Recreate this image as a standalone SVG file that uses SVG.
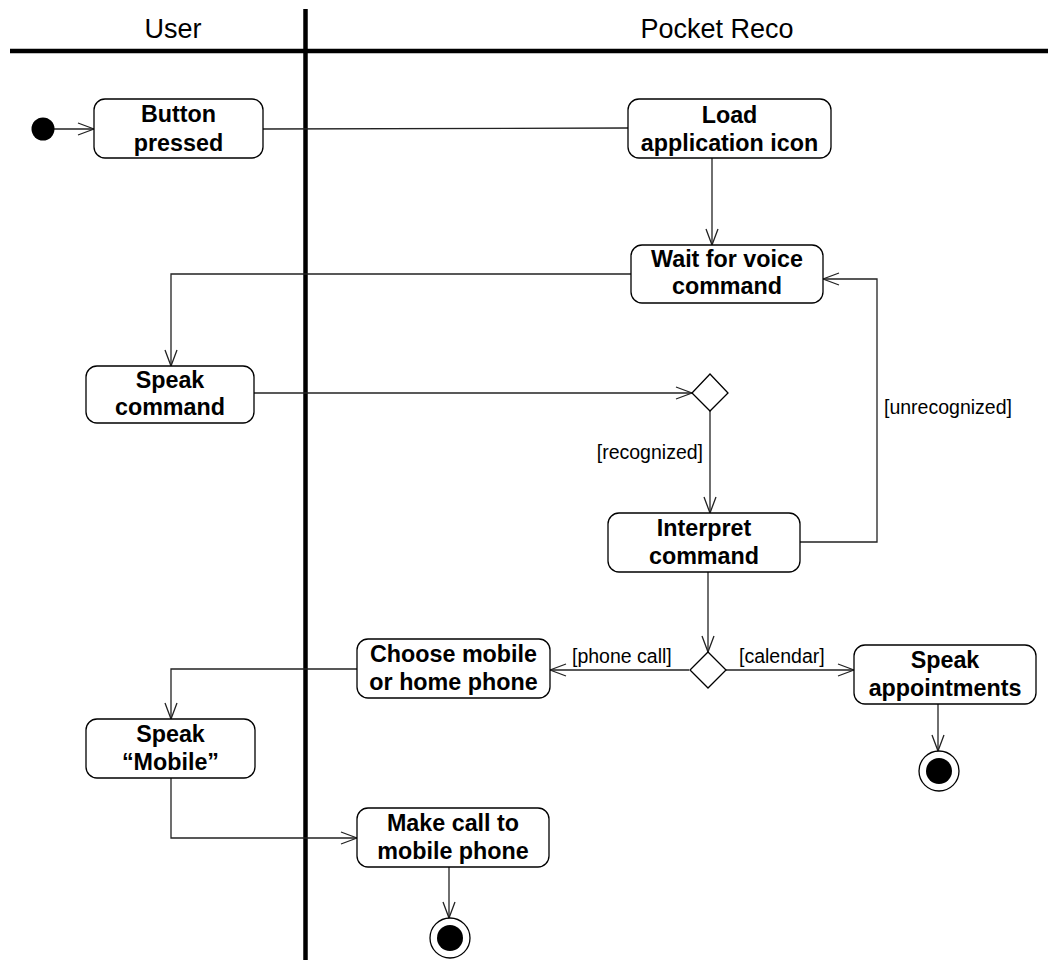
<svg xmlns="http://www.w3.org/2000/svg" width="1048" height="965" viewBox="0 0 1048 965">
  <style>
    .lane { stroke: #000; stroke-width: 4.5; fill: none; }
    .lane-title { font-family: "Liberation Sans", Arial, sans-serif; font-size: 27px; fill: #000; text-anchor: middle; }
    .act { fill: #fff; stroke: #000; stroke-width: 1.3; }
    .act-text { font-family: "Liberation Sans", Arial, sans-serif; font-size: 23.3px; font-weight: bold; fill: #000; text-anchor: middle; }
    .flow { fill: none; stroke: #222; stroke-width: 1.3; }
    .guard { font-family: "Liberation Sans", Arial, sans-serif; font-size: 19.5px; fill: #000; }
    .decision { fill: #fff; stroke: #000; stroke-width: 1.3; }
  </style>
  <defs>
    <marker id="open-arrow" viewBox="0 0 18 14" refX="17" refY="7" markerWidth="18" markerHeight="14" markerUnits="userSpaceOnUse" orient="auto">
      <path d="M1,1 L17,7 L1,13" fill="none" stroke="#222" stroke-width="1.3"/>
    </marker>
  </defs>

  <rect x="0" y="0" width="1048" height="965" fill="#fff"/>

  <!-- swimlanes -->
  <g id="swimlanes">
    <line class="lane" x1="10" y1="51" x2="1048" y2="51"/>
    <line class="lane" x1="305.5" y1="9" x2="305.5" y2="960"/>
    <text class="lane-title" x="173" y="38">User</text>
    <text class="lane-title" x="717" y="38">Pocket Reco</text>
  </g>

  <!-- control flows -->
  <g id="connectors">
    <line class="flow" x1="54" y1="129" x2="94" y2="129" marker-end="url(#open-arrow)"/>
    <line class="flow" x1="263" y1="129" x2="628" y2="128"/>
    <line class="flow" x1="712" y1="158" x2="712" y2="245" marker-end="url(#open-arrow)"/>
    <polyline class="flow" points="631,274 171,274 171,366" marker-end="url(#open-arrow)"/>
    <line class="flow" x1="254" y1="393" x2="692" y2="393" marker-end="url(#open-arrow)"/>
    <line class="flow" x1="710" y1="411" x2="710" y2="513" marker-end="url(#open-arrow)"/>
    <polyline class="flow" points="800,542 877,542 877,279 823,279" marker-end="url(#open-arrow)"/>
    <line class="flow" x1="708" y1="572" x2="708" y2="652" marker-end="url(#open-arrow)"/>
    <line class="flow" x1="689" y1="670" x2="550" y2="670" marker-end="url(#open-arrow)"/>
    <line class="flow" x1="726" y1="670" x2="854" y2="670" marker-end="url(#open-arrow)"/>
    <line class="flow" x1="938" y1="704" x2="938" y2="751" marker-end="url(#open-arrow)"/>
    <polyline class="flow" points="357,669 171,669 171,719" marker-end="url(#open-arrow)"/>
    <polyline class="flow" points="171,778 171,838 357,838" marker-end="url(#open-arrow)"/>
    <line class="flow" x1="449" y1="867" x2="449" y2="918" marker-end="url(#open-arrow)"/>

    <text class="guard" x="703" y="459" text-anchor="end">[recognized]</text>
    <text class="guard" x="884" y="414">[unrecognized]</text>
    <text class="guard" x="572" y="663">[phone call]</text>
    <text class="guard" x="739" y="663">[calendar]</text>
  </g>

  <!-- start -->
  <g id="start">
    <circle cx="43" cy="129" r="11.5" fill="#000"/>
  </g>

  <g id="button-pressed">
    <rect class="act" x="94" y="99" width="169" height="59" rx="11"/>
    <text class="act-text" x="178.5" y="122">Button</text>
    <text class="act-text" x="178.5" y="151">pressed</text>
  </g>

  <g id="load-icon">
    <rect class="act" x="628" y="99" width="203" height="59" rx="11"/>
    <text class="act-text" x="729.5" y="123">Load</text>
    <text class="act-text" x="729.5" y="151">application icon</text>
  </g>

  <g id="wait-voice">
    <rect class="act" x="631" y="245" width="192" height="58" rx="11"/>
    <text class="act-text" x="727" y="267">Wait for voice</text>
    <text class="act-text" x="727" y="294">command</text>
  </g>

  <g id="speak-command">
    <rect class="act" x="86" y="366" width="168" height="57" rx="11"/>
    <text class="act-text" x="170" y="388">Speak</text>
    <text class="act-text" x="170" y="415">command</text>
  </g>

  <g id="decision-recognized">
    <polygon class="decision" points="710,374 728,393 710,411 692,393"/>
  </g>

  <g id="interpret-command">
    <rect class="act" x="608" y="513" width="192" height="59" rx="11"/>
    <text class="act-text" x="704" y="536">Interpret</text>
    <text class="act-text" x="704" y="564">command</text>
  </g>

  <g id="decision-type">
    <polygon class="decision" points="708,652 726,670 708,688 690,670"/>
  </g>

  <g id="choose-phone">
    <rect class="act" x="357" y="639" width="193" height="59" rx="11"/>
    <text class="act-text" x="453.5" y="662">Choose mobile</text>
    <text class="act-text" x="453.5" y="690">or home phone</text>
  </g>

  <g id="speak-appointments">
    <rect class="act" x="854" y="645" width="182" height="59" rx="11"/>
    <text class="act-text" x="945" y="668">Speak</text>
    <text class="act-text" x="945" y="696">appointments</text>
  </g>

  <g id="end-calendar">
    <circle cx="939" cy="771" r="20" fill="#fff" stroke="#000" stroke-width="1.3"/>
    <circle cx="939" cy="771" r="13" fill="#000"/>
  </g>

  <g id="speak-mobile">
    <rect class="act" x="86" y="719" width="169" height="59" rx="11"/>
    <text class="act-text" x="170.5" y="742">Speak</text>
    <text class="act-text" x="170.5" y="770">“Mobile”</text>
  </g>

  <g id="make-call">
    <rect class="act" x="357" y="808" width="192" height="59" rx="11"/>
    <text class="act-text" x="453" y="831">Make call to</text>
    <text class="act-text" x="453" y="859">mobile phone</text>
  </g>

  <g id="end-call">
    <circle cx="450" cy="938" r="20" fill="#fff" stroke="#000" stroke-width="1.3"/>
    <circle cx="450" cy="938" r="13" fill="#000"/>
  </g>
</svg>
